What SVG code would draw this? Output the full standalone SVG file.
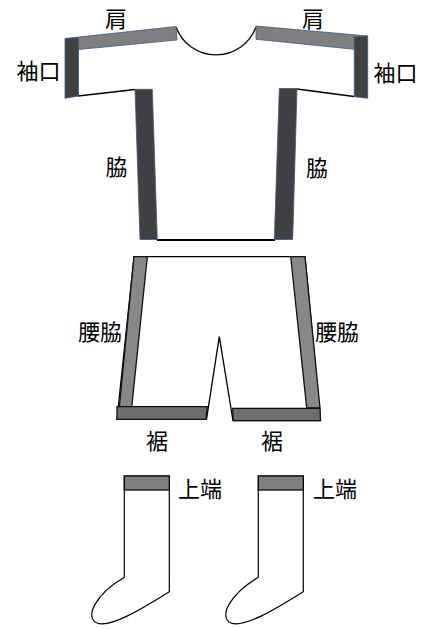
<svg xmlns="http://www.w3.org/2000/svg" width="422" height="629" viewBox="0 0 422 629">
<style>
text{font-family:"Noto Sans CJK JP","Noto Sans",sans-serif;fill:#000;}
.lbl{font-size:22px;}
.ln{fill:none;stroke:#000;stroke-width:1.3;}
.dark{fill:#404040;stroke:#3a5a88;stroke-width:0.8;}
.mid{fill:#7f7f7f;stroke:#3a5a88;stroke-width:0.8;}
.pside{fill:#888;stroke:#111;stroke-width:1.3;}
.phem{fill:#6e6e6e;stroke:#111;stroke-width:1.3;}
.sock{fill:#fff;stroke:#000;stroke-width:1.2;}
.band{fill:#7f7f7f;stroke:#000;stroke-width:1.2;}
</style>
<rect width="422" height="629" fill="#fff"/>
<g id="shirt">
  <path class="ln" d="M176,27 A42.6,42.6 0 0 0 256,27"/>
  <path class="ln" d="M78,96 L135,89.5"/>
  <path class="ln" d="M354,96.5 L297,89"/>
  <path class="ln" d="M157,240 L275,240" style="stroke-width:2"/>
  <path class="mid" d="M65,38.5 L176,26.5 L177,40 L78.5,49.5 Z"/>
  <path class="mid" d="M256,26 L367.7,36 L354.3,49.3 L256,39.3 Z"/>
  <path class="dark" d="M65,38.5 L78.5,38 L78.5,96 L65,98.3 Z"/>
  <path class="dark" d="M354.3,37 L367.7,36 L367.7,98.3 L354.3,96.7 Z"/>
  <path class="dark" d="M135,89.3 L152.3,89.3 L157.3,239.5 L140,239.5 Z"/>
  <path class="dark" d="M279.3,88.5 L297,88.5 L292.7,239.5 L274.3,239.5 Z"/>
  <text class="lbl" x="116" y="27" text-anchor="middle">肩</text>
  <text class="lbl" x="313" y="27" text-anchor="middle">肩</text>
  <text class="lbl" x="38.5" y="79" text-anchor="middle">袖口</text>
  <text class="lbl" x="395.5" y="81" text-anchor="middle">袖口</text>
  <text class="lbl" x="116.5" y="175" text-anchor="middle">脇</text>
  <text class="lbl" x="317" y="176" text-anchor="middle">脇</text>
</g>
<g id="pants">
  <path fill="#fff" stroke="#000" stroke-width="1.3" d="M134,256.7 L305,256.7 L320.5,420.5 L233,420.5 L219.3,336.7 L206.5,419.3 L117,419.3 Z"/>
  <path class="pside" d="M134,256.7 L147.3,256.7 L131.7,407.3 L119.3,407.3 Z"/>
  <path class="pside" d="M290.7,256.7 L305,256.7 L320,408 L306.7,408 Z"/>
  <path class="phem" d="M117,406.7 L207.3,406.7 L206,419.3 L117,419.3 Z"/>
  <path class="phem" d="M232.7,408.3 L320,408.3 L320.5,420.7 L233.3,420.7 Z"/>
  <text class="lbl" x="100" y="340" text-anchor="middle">腰脇</text>
  <text class="lbl" x="337" y="340" text-anchor="middle">腰脇</text>
  <text class="lbl" x="157" y="449" text-anchor="middle">裾</text>
  <text class="lbl" x="272" y="449" text-anchor="middle">裾</text>
</g>
<g id="sock1">
  <path class="sock" d="M124.3,476 L169.3,476 L169.3,591.7 C140,610 110,628 97,623 C84,617 96,594 124.3,577.3 Z"/>
  <rect class="band" x="124.3" y="476" width="45" height="14"/>
  <text class="lbl" x="178" y="497">上端</text>
</g>
<g id="sock2">
  <path class="sock" d="M258.3,476 L303.3,476 L303.3,591.7 C274,610 244,628 231,623 C218,617 230,594 258.3,577.3 Z"/>
  <rect class="band" x="258.3" y="476" width="45" height="14"/>
  <text class="lbl" x="313" y="497">上端</text>
</g>
</svg>
